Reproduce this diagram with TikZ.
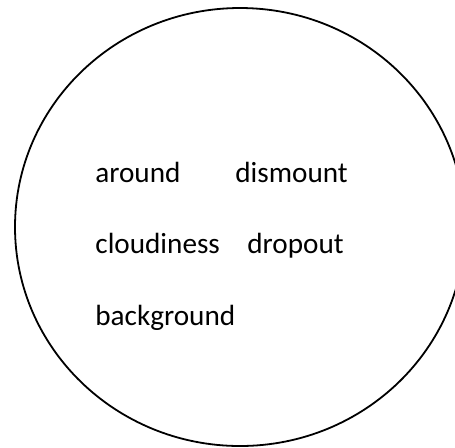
\documentclass[tikz,border=0pt]{standalone}
\usepackage{fontspec}
\setmainfont{Carlito}

\begin{document}
\begin{tikzpicture}[
  x=0.5pt, y=-0.5pt,
  word/.style={anchor=base west, inner sep=0pt, font=\fontsize{14.6pt}{17pt}\selectfont}
]
\useasboundingbox (0,0) rectangle (455,447);
\clip (0,0) rectangle (455,447);
\draw[line width=0.9pt] (240,227) ellipse [x radius=225, y radius=219];

\node[word] (around) at (95,182) {around};
\node[word] (dismount) at (235,182) {dismount};
\node[word] (cloudiness) at (95,253) {cloudiness};
\node[word] (dropout) at (247,253) {dropout};
\node[word] (background) at (95,325) {background};
\end{tikzpicture}
\end{document}
